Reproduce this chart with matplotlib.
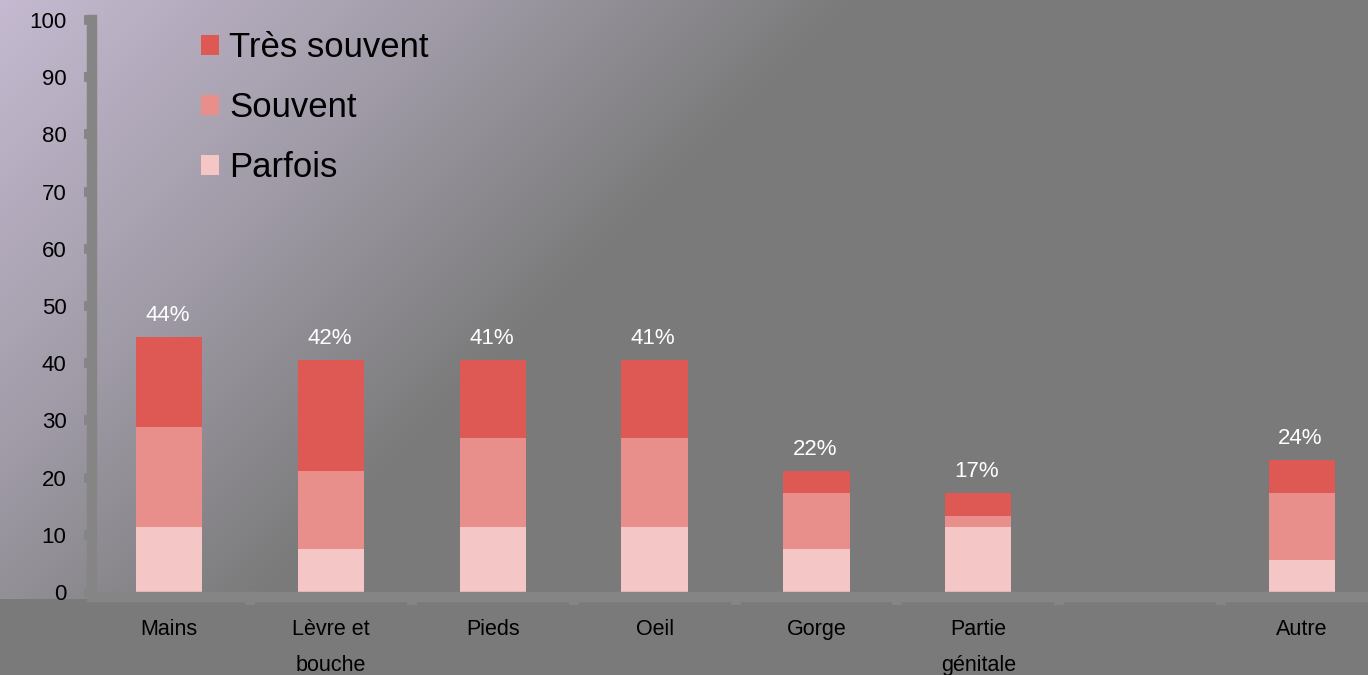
import numpy as np
import matplotlib
matplotlib.use("Agg")
import matplotlib.pyplot as plt
from matplotlib.patches import Patch

# ---- data ----
categories = ["Mains", "Lèvre et\nbouche", "Pieds", "Oeil", "Gorge", "Partie\ngénitale", "", "Autre"]
parfois = [11.4, 7.6, 11.4, 11.4, 7.6, 11.4, 0, 5.6]
souvent = [17.5, 13.6, 15.5, 15.5, 9.7, 1.9, 0, 11.7]
tres_souvent = [15.6, 19.4, 13.7, 13.7, 3.8, 4.0, 0, 5.8]
total_labels = ["44%", "42%", "41%", "41%", "22%", "17%", "", "24%"]
yticks = [0, 10, 20, 30, 40, 50, 60, 70, 80, 90, 100]

c_tres = "#DE5854"
c_souv = "#E88F8B"
c_parf = "#F4C6C6"

plt.rcParams['font.family'] = ['Liberation Sans', 'DejaVu Sans']

W, H = 1368, 675
fig = plt.figure(figsize=(W / 100, H / 100), dpi=100)
fig.patch.set_facecolor("#7A7A7A")

# ---- background gradient ----
bg = fig.add_axes([0, 0, 1, 1], zorder=-10)
yy, xx = np.mgrid[0:H, 0:W]
s = (xx + yy).astype(float)
stops_s = [0, 460, 860]
stops_c = np.array([[197, 186, 209], [160, 155, 167], [122, 122, 122]], float)
img = np.zeros((H, W, 3))
for k in range(3):
    img[..., k] = np.interp(s, stops_s, stops_c[:, k])
img[yy > 598] = [122, 122, 122]
bg.imshow(img / 255.0, aspect="auto", extent=(0, W, H, 0))
bg.axis("off")

# ---- main axes ----
left_px, right_px = 91.5, 1368
bot_px, top_px = 592, 20
ax = fig.add_axes([left_px / W, (H - bot_px) / H, (right_px - left_px) / W, (bot_px - top_px) / H])
ax.patch.set_alpha(0)

x = np.arange(len(categories))
width = 0.41
b1 = np.array(parfois)
b2 = b1 + np.array(souvent)
ax.bar(x, parfois, width, color=c_parf, linewidth=0)
ax.bar(x, souvent, width, bottom=b1, color=c_souv, linewidth=0)
ax.bar(x, tres_souvent, width, bottom=b2, color=c_tres, linewidth=0)

tops = b2 + np.array(tres_souvent)
for xi, t, lab in zip(x, tops, total_labels):
    if lab:
        ax.annotate(lab, (xi, t), xytext=(-1, 11.5), textcoords="offset points",
                    ha="center", va="baseline", color="white", fontsize=16)

scale = (1302 - 169) / 7.0
ax.set_xlim(-(169 - left_px) / scale, (right_px - 169) / scale)
ax.set_ylim(0, 100)

ax.set_yticks(yticks)
ax.set_yticklabels([str(v) for v in yticks])
ax.set_xticks(x)
ax.set_xticklabels(categories)
ax.set_xticks(x[:-1] + 0.5, minor=True)

for sp in ["top", "right"]:
    ax.spines[sp].set_visible(False)
for sp in ["left", "bottom"]:
    ax.spines[sp].set_color("#858585")
    ax.spines[sp].set_linewidth(7.5)
    ax.spines[sp].set_capstyle("projecting")
ax.spines["bottom"].set_position(("outward", 3.6))

ax.tick_params(axis="y", direction="out", length=6, width=7, color="#858585",
               labelsize=16, pad=12, labelcolor="black")
ax.tick_params(axis="x", which="major", length=0, labelsize=15.5, pad=16,
               labelcolor="black")
ax.tick_params(axis="x", which="minor", direction="out", length=6, width=7,
               color="#858585")
for lbl in ax.get_xticklabels():
    lbl.set_linespacing(1.9)
    lbl.set_verticalalignment("top")

# ---- legend ----
handles = [Patch(facecolor=c_tres, label="Très souvent"),
           Patch(facecolor=c_souv, label="Souvent"),
           Patch(facecolor=c_parf, label="Parfois")]
fig.legend(handles=handles, loc="upper left", bbox_to_anchor=(201 / W, 1 - 31 / H),
           frameon=False, fontsize=25, handlelength=0.52, handleheight=0.52,
           handletextpad=0.3, labelspacing=0.78, borderpad=0, borderaxespad=0,
           labelcolor="black")

fig.savefig("out.png", dpi=100, facecolor=fig.get_facecolor())
